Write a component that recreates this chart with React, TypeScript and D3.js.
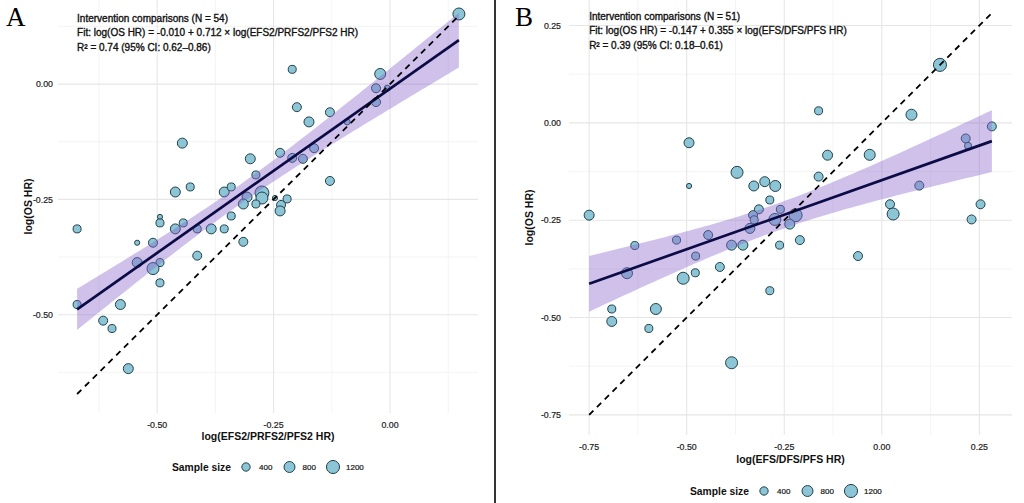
import React, { useRef, useEffect } from 'react';
import * as d3 from 'd3';

// Panel A: log(EFS2/PRFS2/PFS2 HR) vs log(OS HR)
const aSurrogate = [
  0.148, -0.21, -0.021, -0.03, -0.03, -0.2, -0.129, -0.174, -0.446, -0.3,
  -0.236, -0.163, -0.187, -0.21, -0.288, -0.129, -0.461, -0.429, -0.356, -0.341,
  -0.307, -0.275, -0.275, -0.315, -0.288, -0.247, -0.221, -0.234, -0.236, -0.341,
  -0.672, -0.494, -0.494, -0.461, -0.444, -0.414, -0.384, -0.356, -0.315, -0.543,
  -0.509, -0.414, -0.543, -0.494, -0.509, -0.494, -0.672, -0.579, -0.616, -0.597,
  -0.562, -0.006, -0.092,
];
const aOs = [
  0.152, 0.032, 0.022, -0.009, -0.039, -0.05, -0.061, -0.082, -0.128, -0.162,
  -0.149, -0.139, -0.162, -0.16, -0.197, -0.21, -0.234, -0.223, -0.234, -0.223,
  -0.245, -0.236, -0.247, -0.26, -0.26, -0.247, -0.249, -0.262, -0.275, -0.286,
  -0.314, -0.288, -0.301, -0.314, -0.301, -0.314, -0.314, -0.314, -0.342, -0.344,
  -0.344, -0.372, -0.387, -0.387, -0.4, -0.431, -0.478, -0.478, -0.513, -0.53,
  -0.617, -0.009, -0.082,
];
const aSampleSize = [
  990, 360, 810, 490, 490, 490, 490, 640, 640, 640,
  490, 490, 490, 490, 360, 490, 640, 360, 640, 360,
  640, 1380, 990, 640, 360, 60, 360, 490, 640, 360,
  360, 60, 360, 640, 360, 360, 640, 360, 490, 60,
  490, 490, 640, 360, 990, 360, 360, 640, 490, 360,
  640, 140, 140,
];

// Panel B: log(EFS/DFS/PFS HR) vs log(OS HR)
const bSurrogate = [
  -0.494, -0.371, -0.494, -0.328, -0.3, -0.273, -0.287, -0.75, -0.315, -0.33,
  -0.327, -0.26, -0.274, -0.221, -0.236, -0.338, -0.21, -0.262, -0.356, -0.385,
  -0.445, -0.526, -0.633, -0.477, -0.415, -0.061, -0.653, -0.509, -0.478, -0.287,
  -0.692, -0.579, -0.692, -0.597, -0.385, 0.149, -0.162, 0.076, 0.282, 0.215,
  0.221, -0.139, -0.031, -0.162, 0.096, 0.021, 0.029, 0.253, 0.23,
];
const bOs = [
  -0.051, -0.127, -0.162, -0.162, -0.151, -0.162, -0.198, -0.237, -0.222, -0.237,
  -0.249, -0.222, -0.248, -0.237, -0.26, -0.271, -0.301, -0.314, -0.314, -0.314,
  -0.288, -0.301, -0.315, -0.342, -0.37, -0.342, -0.386, -0.399, -0.385, -0.431,
  -0.478, -0.478, -0.51, -0.528, -0.616, 0.149, 0.031, 0.021, -0.009, -0.04,
  -0.059, -0.083, -0.082, -0.138, -0.161, -0.209, -0.234, -0.209, -0.248,
];
const bSampleSize = [
  640, 990, 60, 640, 640, 810, 360, 640, 490, 490,
  360, 360, 990, 1200, 640, 640, 490, 360, 640, 640,
  490, 360, 360, 360, 490, 490, 810, 990, 360, 360,
  360, 810, 640, 360, 990, 1200, 360, 810, 490, 490,
  250, 640, 810, 490, 490, 490, 990, 490, 490,
];

const legendSizes = [400, 800, 1200];
const legendLabels = ['400', '800', '1200'];

const aNotes = [
  'Intervention comparisons (N = 54)',
  'Fit: log(OS HR) = -0.010 + 0.712 \u00d7 log(EFS2/PRFS2/PFS2 HR)',
  'R\u00b2 = 0.74 (95% CI: 0.62\u20130.86)',
];
const bNotes = [
  'Intervention comparisons (N = 51)',
  'Fit: log(OS HR) = -0.147 + 0.355 \u00d7 log(EFS/DFS/PFS HR)',
  'R\u00b2 = 0.39 (95% CI: 0.18\u20130.61)',
];

const FONT = '"Liberation Sans", Arial, Helvetica, sans-serif';
const POINT_FILL = '#8cc6d6';
const POINT_STROKE = '#22404a';

const fmt = d3.formatLocale({
  decimal: '.', thousands: ',', grouping: [3], currency: ['', ''], minus: '-',
}).format('.2f');

// size scale: area linear in sample size (like ggplot scale_size)
const areaScale = d3.scaleLinear().domain([50, 1400]).range([6.25, 49]);
const radius = (n: number) => Math.sqrt(areaScale(n));

interface PanelCfg {
  xs: number[];
  ys: number[];
  ns: number[];
  intercept: number;
  slope: number;
  notes: string[];
  xTitle: string;
  letter: string;
  letterX: number;
  box: { left: number; right: number; top: number; bottom: number };
  noteY: number;
  yLabelGap: number;
  yTitleX: number;
  legendX: number;
  legendY: number;
  xTitleY: number;
}

function drawPanel(svg: d3.Selection<SVGSVGElement, unknown, null, undefined>, cfg: PanelCfg) {
  const { xs, ys, ns, box } = cfg;
  const [x0, x1] = d3.extent(xs) as [number, number];
  const yLo = Math.min(d3.min(ys)!, x0);
  const yHi = Math.max(d3.max(ys)!, x1);
  const ex = (x1 - x0) * 0.05;
  const ey = (yHi - yLo) * 0.05;

  const x = d3.scaleLinear().domain([x0 - ex, x1 + ex]).range([box.left, box.right]);
  const y = d3.scaleLinear().domain([yLo - ey, yHi + ey]).range([box.bottom, box.top]);

  const g = svg.append('g');

  // grid
  const inX = (v: number) => v >= x.domain()[0] && v <= x.domain()[1];
  const inY = (v: number) => v >= y.domain()[0] && v <= y.domain()[1];
  const majors = d3.range(-1, 0.51, 0.25);
  const minors = d3.range(-0.875, 0.51, 0.25);
  const top = Math.max(box.top, 0);

  g.selectAll('.minx').data(minors.filter(inX)).join('line')
    .attr('x1', d => x(d)).attr('x2', d => x(d))
    .attr('y1', top).attr('y2', box.bottom)
    .attr('stroke', '#efefef').attr('stroke-width', 0.7);
  g.selectAll('.miny').data(minors.filter(inY)).join('line')
    .attr('y1', d => y(d)).attr('y2', d => y(d))
    .attr('x1', box.left).attr('x2', box.right)
    .attr('stroke', '#efefef').attr('stroke-width', 0.7);
  g.selectAll('.majx').data(majors.filter(inX)).join('line')
    .attr('x1', d => x(d)).attr('x2', d => x(d))
    .attr('y1', top).attr('y2', box.bottom)
    .attr('stroke', '#e6e6e6').attr('stroke-width', 1.1);
  g.selectAll('.majy').data(majors.filter(inY)).join('line')
    .attr('y1', d => y(d)).attr('y2', d => y(d))
    .attr('x1', box.left).attr('x2', box.right)
    .attr('stroke', '#e6e6e6').attr('stroke-width', 1.1);

  // tick labels
  g.selectAll('.xt').data(majors.filter(inX)).join('text')
    .attr('x', d => x(d)).attr('y', box.bottom + 14.5)
    .attr('text-anchor', 'middle')
    .attr('font-family', FONT).attr('font-size', 8.8).attr('fill', '#222')
    .attr('stroke', '#222').attr('stroke-width', 0.2)
    .text(d => fmt(d));
  g.selectAll('.yt').data(majors.filter(inY)).join('text')
    .attr('x', box.left - cfg.yLabelGap).attr('y', d => y(d) + 3.2)
    .attr('text-anchor', 'end')
    .attr('font-family', FONT).attr('font-size', 8.8).attr('fill', '#222')
    .attr('stroke', '#222').attr('stroke-width', 0.2)
    .text(d => fmt(d));

  // axis titles
  g.append('text')
    .attr('x', (box.left + box.right) / 2).attr('y', cfg.xTitleY)
    .attr('text-anchor', 'middle')
    .attr('font-family', FONT).attr('font-size', 10.5).attr('font-weight', 'bold').attr('fill', '#111')
    .text(cfg.xTitle);
  const yMid = (Math.max(box.top, 0) + box.bottom) / 2;
  g.append('text')
    .attr('transform', `translate(${cfg.yTitleX},${yMid}) rotate(-90)`)
    .attr('text-anchor', 'middle')
    .attr('font-family', FONT).attr('font-size', 10.5).attr('font-weight', 'bold').attr('fill', '#111')
    .text('log(OS HR)');

  // points
  const idx = d3.range(xs.length);
  g.selectAll('.pt').data(idx).join('circle')
    .attr('cx', i => x(xs[i])).attr('cy', i => y(ys[i]))
    .attr('r', i => radius(ns[i]))
    .attr('fill', POINT_FILL).attr('stroke', POINT_STROKE).attr('stroke-width', 1);

  // confidence band around stated fit
  const n = xs.length;
  const xbar = d3.mean(xs)!;
  const sxx = d3.sum(xs, v => (v - xbar) ** 2);
  const fit = (v: number) => cfg.intercept + cfg.slope * v;
  const sse = d3.sum(idx, i => (ys[i] - fit(xs[i])) ** 2);
  const s = Math.sqrt(sse / (n - 2));
  const tCrit = 2.01;
  const grid = d3.range(0, 81).map(k => x0 + ((x1 - x0) * k) / 80);
  const half = (v: number) => tCrit * s * Math.sqrt(1 / n + (v - xbar) ** 2 / sxx);

  g.append('path')
    .datum(grid)
    .attr('d', d3.area<number>()
      .x(v => x(v))
      .y0(v => y(fit(v) - half(v)))
      .y1(v => y(fit(v) + half(v))))
    .attr('fill', '#8a63cc').attr('fill-opacity', 0.4);

  g.append('line')
    .attr('x1', x(x0)).attr('y1', y(fit(x0)))
    .attr('x2', x(x1)).attr('y2', y(fit(x1)))
    .attr('stroke', '#0b0b45').attr('stroke-width', 2.7);

  // identity line
  g.append('line')
    .attr('x1', x(x0)).attr('y1', y(x0))
    .attr('x2', x(x1)).attr('y2', y(x1))
    .attr('stroke', '#000').attr('stroke-width', 1.8).attr('stroke-dasharray', '6,5');

  // annotation
  g.selectAll('.note').data(cfg.notes).join('text')
    .attr('x', x(x0)).attr('y', (_, i) => cfg.noteY + i * 14.5)
    .attr('font-family', FONT).attr('font-size', 10).attr('fill', '#111')
    .attr('stroke', '#111').attr('stroke-width', 0.35)
    .text(d => d);

  // panel letter
  g.append('text')
    .attr('x', cfg.letterX).attr('y', 26)
    .attr('font-family', '"Liberation Serif", "Times New Roman", serif')
    .attr('font-size', 27).attr('fill', '#000')
    .text(cfg.letter);

  // legend
  const leg = g.append('g').attr('transform', `translate(${cfg.legendX},${cfg.legendY})`);
  leg.append('text')
    .attr('x', 0).attr('y', 3.8)
    .attr('font-family', FONT).attr('font-size', 10.3).attr('font-weight', 'bold').attr('fill', '#111')
    .text('Sample size');
  leg.selectAll('circle').data(legendSizes).join('circle')
    .attr('cx', (_, i) => 74 + i * 43.5).attr('cy', 0)
    .attr('r', d => radius(d))
    .attr('fill', POINT_FILL).attr('stroke', POINT_STROKE).attr('stroke-width', 1);
  leg.selectAll('.ll').data(legendLabels).join('text')
    .attr('x', (_, i) => 87 + i * 43.5).attr('y', 3)
    .attr('font-family', FONT).attr('font-size', 8).attr('fill', '#111')
    .attr('stroke', '#111').attr('stroke-width', 0.2)
    .text(d => d);
}

export default function App() {
  const svgRef = useRef<SVGSVGElement>(null);

  useEffect(() => {
    if (!svgRef.current) return;
    const svg = d3.select(svgRef.current);
    svg.selectAll('*').remove();

    svg.append('rect').attr('width', 1024).attr('height', 503).attr('fill', '#fff');

    drawPanel(svg, {
      xs: aSurrogate, ys: aOs, ns: aSampleSize,
      intercept: -0.01, slope: 0.712,
      notes: aNotes,
      xTitle: 'log(EFS2/PRFS2/PFS2 HR)',
      letter: 'A', letterX: 6,
      box: { left: 58, right: 478, top: -5, bottom: 413 },
      noteY: 21.8, yLabelGap: 5, yTitleX: 32,
      legendX: 172, legendY: 467, xTitleY: 440,
    });

    drawPanel(svg, {
      xs: bSurrogate, ys: bOs, ns: bSampleSize,
      intercept: -0.147, slope: 0.355,
      notes: bNotes,
      xTitle: 'log(EFS/DFS/PFS HR)',
      letter: 'B', letterX: 515,
      box: { left: 569, right: 1012, top: -7, bottom: 435 },
      noteY: 19.8, yLabelGap: 8, yTitleX: 533,
      legendX: 690, legendY: 491, xTitleY: 463,
    });

    // separator between panels
    svg.append('line')
      .attr('x1', 495).attr('x2', 495).attr('y1', 0).attr('y2', 503)
      .attr('stroke', '#000').attr('stroke-width', 1.6);
  }, []);

  return (
    <svg
      ref={svgRef}
      width={1024}
      height={503}
      style={{ position: 'absolute', left: 0, top: 0 }}
    />
  );
}
